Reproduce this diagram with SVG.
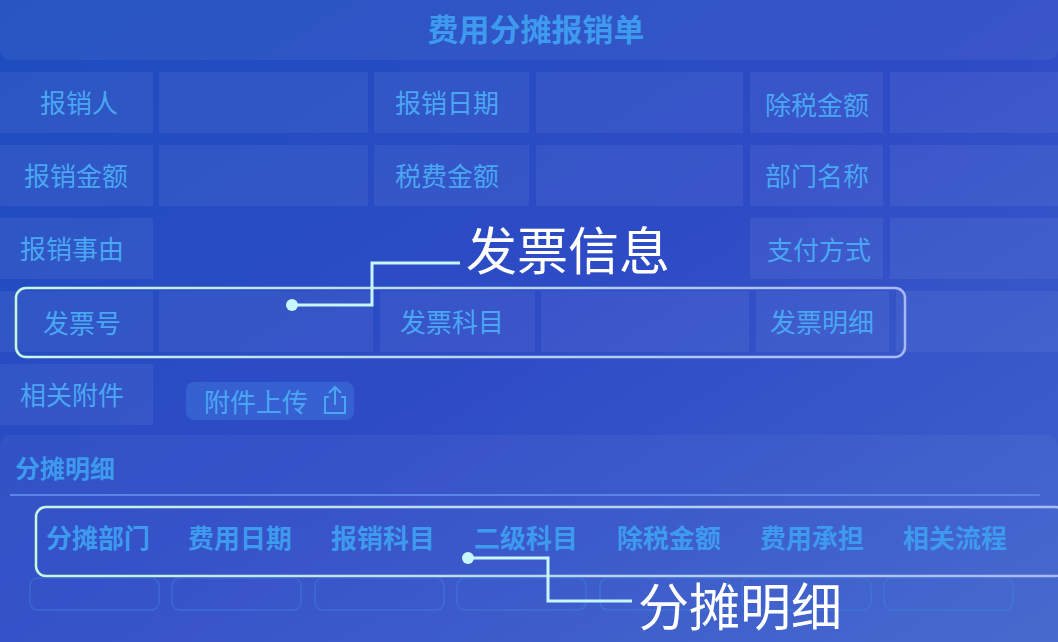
<svg xmlns="http://www.w3.org/2000/svg" width="1058" height="642" viewBox="0 0 1058 642">
<defs>
<linearGradient id="bg" x1="0" y1="0" x2="1" y2="1"><stop offset="0" stop-color="#1c4dbf"/><stop offset="0.5" stop-color="#2e4bc6"/><stop offset="1" stop-color="#4064cc"/></linearGradient>
<linearGradient id="hl" x1="0" y1="0" x2="1" y2="0"><stop offset="0" stop-color="#c8f8e0"/><stop offset="1" stop-color="#a9b8f4"/></linearGradient>
</defs>
<style>
.c{fill:#ffffff;fill-opacity:0.06}
.l{font-family:"Noto Sans CJK SC",sans-serif;font-size:26px;fill:#4aa6f2;text-anchor:middle}
.h{font-family:"Noto Sans CJK SC",sans-serif;font-size:26px;font-weight:bold;fill:#3e9aee;text-anchor:middle}
.big{font-family:"Noto Sans CJK SC",sans-serif;font-size:51px;fill:#ffffff}
.box{fill:none;stroke:url(#hl);stroke-width:2.5}
.conn{fill:none;stroke:#c8f6ff;stroke-width:3}
.bc{fill:none;stroke:#3f7fe0;stroke-opacity:0.5;stroke-width:1.5}
</style>
<rect width="1058" height="642" fill="url(#bg)"/>
<g id="header"><rect x="0" y="-10" width="1058" height="70" rx="10" fill="#ffffff" fill-opacity="0.05"/><text x="536" y="41" class="h" style="font-size:31px">费用分摊报销单</text></g>
<g id="form">
<rect class="c" x="0" y="72" width="153" height="61"/><rect class="c" x="159" y="72" width="209" height="61"/><rect class="c" x="374" y="72" width="155" height="61"/><rect class="c" x="536" y="72" width="207" height="61"/><rect class="c" x="750" y="72" width="133" height="61"/><rect class="c" x="890" y="72" width="168" height="61"/>
<rect class="c" x="0" y="145" width="153" height="61"/><rect class="c" x="159" y="145" width="209" height="61"/><rect class="c" x="374" y="145" width="155" height="61"/><rect class="c" x="536" y="145" width="207" height="61"/><rect class="c" x="750" y="145" width="133" height="61"/><rect class="c" x="890" y="145" width="168" height="61"/>
<rect class="c" x="0" y="218" width="153" height="61"/><rect class="c" x="750" y="218" width="133" height="61"/><rect class="c" x="890" y="218" width="168" height="61"/>
<rect class="c" x="0" y="291" width="153" height="61"/><rect class="c" x="159" y="291" width="214" height="61"/><rect class="c" x="380" y="291" width="155" height="61"/><rect class="c" x="541" y="291" width="208" height="61"/><rect class="c" x="756" y="291" width="133" height="61"/><rect class="c" x="896" y="291" width="162" height="61"/>
<rect class="c" x="0" y="364" width="153" height="61"/>
<text x="79" y="113" class="l">报销人</text><text x="447" y="113" class="l">报销日期</text><text x="817" y="115" class="l">除税金额</text>
<text x="76" y="186" class="l">报销金额</text><text x="447" y="186" class="l">税费金额</text><text x="817" y="186" class="l">部门名称</text>
<text x="72" y="259" class="l">报销事由</text><text x="819" y="260" class="l">支付方式</text>
<text x="82" y="333" class="l">发票号</text><text x="452" y="332" class="l">发票科目</text><text x="822" y="332" class="l">发票明细</text>
<text x="72" y="405" class="l">相关附件</text>
</g>
<g id="upload"><rect x="186" y="382" width="168" height="38" rx="8" fill="#4a8ae8" fill-opacity="0.35"/><text x="256" y="412" class="l">附件上传</text>
<path d="M329 397 h-4 v16 h20 v-16 h-4 M335 405 v-17 M329 393 l6 -6 l6 6" fill="none" stroke="#4aa6f2" stroke-width="2"/></g>
<g id="invoice-box"><rect class="box" x="16" y="288" width="889" height="69" rx="10"/></g>
<g id="detail">
<rect x="0" y="435" width="1058" height="220" rx="10" fill="#ffffff" fill-opacity="0.04"/>
<text x="65" y="478" class="h" style="font-size:25px">分摊明细</text>
<line x1="10" y1="495" x2="1040" y2="495" stroke="#5a84e6" stroke-width="2"/>
<rect class="box" x="36" y="507" width="1030" height="69" rx="10"/>
<text x="98" y="548" class="h">分摊部门</text><text x="240" y="548" class="h">费用日期</text><text x="383" y="548" class="h">报销科目</text><text x="526" y="548" class="h">二级科目</text><text x="669" y="548" class="h">除税金额</text><text x="812" y="548" class="h">费用承担</text><text x="955" y="548" class="h">相关流程</text>
<rect class="bc" x="30" y="578" width="129" height="32" rx="8"/><rect class="bc" x="172" y="578" width="129" height="32" rx="8"/><rect class="bc" x="315" y="578" width="129" height="32" rx="8"/><rect class="bc" x="457" y="578" width="129" height="32" rx="8"/><rect class="bc" x="600" y="578" width="129" height="32" rx="8"/><rect class="bc" x="742" y="578" width="129" height="32" rx="8"/><rect class="bc" x="884" y="578" width="129" height="32" rx="8"/>
</g>
<g id="connectors">
<circle cx="292" cy="305" r="6" fill="#c8f6ff"/><path class="conn" d="M292 305 H372 V263 H460"/>
<circle cx="468" cy="558" r="6" fill="#c8f6ff"/><path class="conn" d="M468 558 H548 V601 H632"/>
</g>
<g id="callouts"><text x="466" y="270" class="big">发票信息</text><text x="638" y="626" class="big">分摊明细</text></g>
</svg>
